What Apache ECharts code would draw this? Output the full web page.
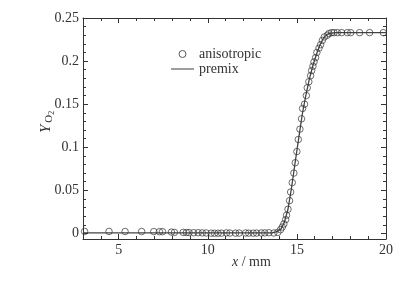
<!DOCTYPE html>
<html>
<head>
<meta charset="utf-8">
<script src="https://cdn.jsdelivr.net/npm/echarts@6/dist/echarts.min.js"></script>
<style>
  html, body { margin: 0; padding: 0; background: #fff; }
  #main { width: 418px; height: 281px; }
</style>
</head>
<body>
<div id="main"></div>
<script>
// anisotropic (circles)
var anisoX = [3.09, 4.46, 5.36, 6.29, 6.97, 7.29, 7.46, 7.96, 8.13, 8.62, 8.80, 8.95, 9.21, 9.46, 9.69, 9.91,
  10.19, 10.38, 10.58, 10.77, 11.05, 11.24, 11.56, 11.76, 12.12, 12.30, 12.55, 12.74, 13.00, 13.20, 13.43, 13.71,
  13.93, 14.08, 14.18, 14.27, 14.37, 14.42, 14.50, 14.59, 14.65, 14.74, 14.83, 14.91, 15.00, 15.08, 15.17, 15.26,
  15.32, 15.43, 15.53, 15.58, 15.67, 15.77, 15.83, 15.90, 15.96, 16.05, 16.12, 16.24, 16.33, 16.43, 16.54, 16.71,
  16.80, 16.95, 17.08, 17.27, 17.51, 17.83, 18.02, 18.52, 19.08, 19.85];
var anisoY = [0.0023, 0.0023, 0.0022, 0.0022, 0.0021, 0.002, 0.002, 0.0015, 0.0012, 0.0012, 0.001, 0.001, 0.0008, 0.0008, 0.0006, 0.0005,
  0.0003, 0.0002, 0.0002, 0.0003, 0.0006, 0.0004, 0.0003, 0.0004, 0.0005, 0.0003, 0.0003, 0.0004, 0.0005, 0.0006, 0.0008, 0.0005,
  0.0012, 0.0043, 0.0074, 0.011, 0.016, 0.021, 0.028, 0.038, 0.048, 0.059, 0.070, 0.082, 0.095, 0.109, 0.121, 0.133,
  0.145, 0.150, 0.160, 0.169, 0.176, 0.183, 0.189, 0.194, 0.199, 0.204, 0.210, 0.215, 0.219, 0.224, 0.228, 0.230,
  0.232, 0.233, 0.233, 0.233, 0.233, 0.233, 0.233, 0.233, 0.233, 0.233];

// premix (line)
var premixX = [3, 13.6, 13.9, 14.1, 14.3, 14.5, 14.7, 14.9, 15.1, 15.3, 15.5, 15.7, 15.9, 16.1, 16.3, 16.5, 16.7, 16.9, 17.2, 20];
var premixY = [0.0005, 0.0005, 0.002, 0.005, 0.013, 0.028, 0.053, 0.082, 0.11, 0.138, 0.16, 0.179, 0.195, 0.208, 0.219, 0.227, 0.231, 0.2325, 0.233, 0.233];

var xMajor = [5, 10, 15, 20];
var xMinor = [3, 4, 5, 6, 7, 8, 9, 10, 11, 12, 13, 14, 15, 16, 17, 18, 19, 20];
var yMajor = [0, 0.05, 0.1, 0.15, 0.2, 0.25];
var yMinor = [0, 0.01, 0.02, 0.03, 0.04, 0.05, 0.06, 0.07, 0.08, 0.09, 0.1, 0.11, 0.12, 0.13, 0.14, 0.15,
  0.16, 0.17, 0.18, 0.19, 0.2, 0.21, 0.22, 0.23, 0.24, 0.25];

function zip(a, b) {
  return a.map(function (v, i) { return [v, b[i]]; });
}

var serif = '"Liberation Serif", "Times New Roman", Times, serif';
var axisColor = '#333';

function xAx(pos, ticks, len, labels, line) {
  return {
    type: 'value', position: pos, min: 3, max: 20,
    axisLine: { show: line, onZero: false, lineStyle: { color: axisColor, width: 1 } },
    axisTick: { show: true, inside: true, length: len, customValues: ticks, lineStyle: { color: axisColor } },
    axisLabel: labels ? { show: true, customValues: xMajor, fontFamily: serif, fontSize: 14, color: '#333', margin: 4 } : { show: false },
    splitLine: { show: false }
  };
}
function yAx(pos, ticks, len, labels, line) {
  return {
    type: 'value', position: pos, min: -0.0065, max: 0.25,
    axisLine: { show: line, onZero: false, lineStyle: { color: axisColor, width: 1 } },
    axisTick: { show: true, inside: true, length: len, customValues: ticks, lineStyle: { color: axisColor } },
    axisLabel: labels ? { show: true, customValues: yMajor, fontFamily: serif, fontSize: 14, color: '#333', margin: 4 } : { show: false },
    splitLine: { show: false }
  };
}

var chart = echarts.init(document.getElementById('main'));
chart.setOption({
  animation: false,
  backgroundColor: '#fff',
  grid: { left: 83, right: 32, top: 18, bottom: 42 },
  legend: {
    orient: 'vertical', left: 166, top: 42, itemWidth: 23, itemHeight: 7, itemGap: 1,
    textStyle: { fontFamily: serif, fontSize: 14, color: '#333' },
    data: [
      { name: 'anisotropic', icon: 'circle', itemStyle: { color: '#fff', borderColor: '#333', borderWidth: 1 } },
      { name: 'premix', icon: 'path://M0,0L24,0L24,1L0,1Z', itemStyle: { color: '#333', borderWidth: 0 } }
    ]
  },
  xAxis: [
    xAx('bottom', xMajor, 5, true, true),
    xAx('bottom', xMinor, 3, false, false),
    xAx('top', xMajor, 5, false, true),
    xAx('top', xMinor, 3, false, false)
  ],
  yAxis: [
    yAx('left', yMajor, 5, true, true),
    yAx('left', yMinor, 3, false, false),
    yAx('right', yMajor, 5, false, true),
    yAx('right', yMinor, 3, false, false)
  ],
  graphic: [
    {
      type: 'text', left: 232, top: 255,
      style: {
        text: '{i|x} / mm', fill: '#333', font: '14px ' + serif,
        rich: { i: { fontStyle: 'italic', fontFamily: serif, fontSize: 14, fill: '#333' } }
      }
    },
    {
      type: 'text', x: 36, y: 133, rotation: Math.PI / 2,
      style: {
        text: '{i|Y}{s|O}{ss|2}', fill: '#333',
        rich: {
          i: { fontStyle: 'italic', fontFamily: serif, fontSize: 15, fill: '#333' },
          s: { fontFamily: serif, fontSize: 11, fill: '#333', padding: [7, 0, 0, 2] },
          ss: { fontFamily: serif, fontSize: 8, fill: '#333', padding: [12, 0, 0, 0] }
        }
      }
    }
  ],
  series: [
    {
      name: 'premix', type: 'line', xAxisIndex: 0, yAxisIndex: 0,
      data: zip(premixX, premixY),
      symbol: 'none', smooth: false,
      lineStyle: { color: '#444', width: 1.3 },
      itemStyle: { color: '#333' },
      z: 2
    },
    {
      name: 'anisotropic', type: 'scatter', xAxisIndex: 0, yAxisIndex: 0,
      data: zip(anisoX, anisoY),
      symbol: 'circle', symbolSize: 6.5,
      itemStyle: { color: 'rgba(255,255,255,0)', borderColor: '#333', borderWidth: 0.9 },
      z: 3
    }
  ]
});
</script>
</body>
</html>
